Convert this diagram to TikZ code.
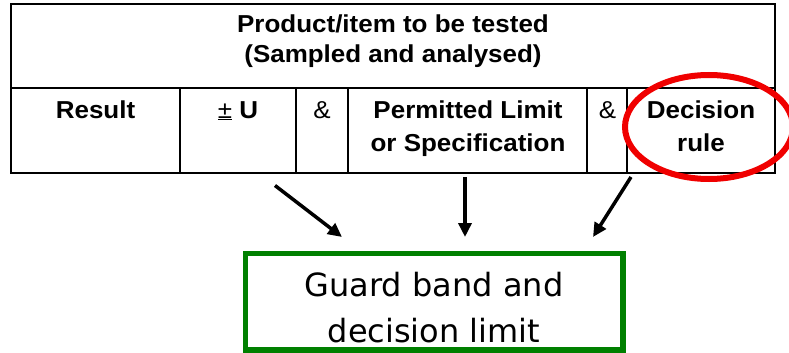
\documentclass[tikz,border=0pt]{standalone}
\usepackage{fontspec}
\setmainfont{Liberation Sans}
\newfontfamily\tblfont[FakeStretch=1.06]{Liberation Sans}
\newfontfamily\gbfont{DejaVu Sans}
\usetikzlibrary{arrows.meta}
\definecolor{gbgreen}{RGB}{0,128,0}
\definecolor{ringred}{RGB}{240,0,0}
\begin{document}
\begin{tikzpicture}[x=1pt,y=-1pt,
  tbl/.style={draw=black, line width=1.2pt},
  hdtext/.style={font=\tblfont\bfseries\fontsize{24.5}{30}\selectfont, align=center, inner sep=0pt, anchor=base},
  celltext/.style={font=\tblfont\bfseries\fontsize{24.5}{33}\selectfont, align=center, inner sep=0pt, anchor=base},
  symtext/.style={font=\tblfont\fontsize{24.5}{33}\selectfont, inner sep=0pt, anchor=base},
  gbbox/.style={draw=gbgreen, line width=5.5pt, inner sep=0pt},
  gbtext/.style={font=\gbfont\fontsize{32}{46}\selectfont, align=center, inner sep=0pt, anchor=base},
  flow/.style={line width=3.5pt, -{Triangle[length=14pt,width=13pt]}},
  ring/.style={draw=ringred, line width=6pt}]
\useasboundingbox (0,0) rectangle (789,353);
\fill[white] (0,0) rectangle (789,353);
% table
\draw[tbl] (11,4) rectangle (775,173);
\draw[tbl] (11,88) -- (775,88);
\foreach \cx in {180,296,348,587,627} \draw[tbl] (\cx,88) -- (\cx,173);
\node[hdtext] (head) at (393,63) {Product/item to be tested\\(Sampled and analysed)};
\node[celltext] (result) at (95.5,118) {Result};
\node[symtext] (pmu) at (238,118) {\underline{±} \textbf{U}};
\node[symtext] (amp1) at (322,118) {\&};
\node[celltext] (limit) at (468,151) {Permitted Limit\\or Specification};
\node[symtext] (amp2) at (607.5,118) {\&};
\node[celltext] (rule) at (701,151) {Decision\\rule};
% red ring
\draw[ring] (709,127) ellipse [x radius=84, y radius=52];
% green box
\node[gbbox, minimum width=377.5pt, minimum height=96.5pt] (gb) at (434.25,301.75) {};
\node[gbtext] (gbt) at (434,342) {Guard band and\\decision limit};
% arrows
\coordinate (s1) at (275,185.5);
\coordinate (e1) at (342,237);
\coordinate (s2) at (465,177);
\coordinate (e2) at (465,237);
\coordinate (s3) at (631,177);
\coordinate (e3) at (593,237);
\draw[flow] (s1) -- (e1);
\draw[flow] (s2) -- (e2);
\draw[flow] (s3) -- (e3);
\end{tikzpicture}
\end{document}
